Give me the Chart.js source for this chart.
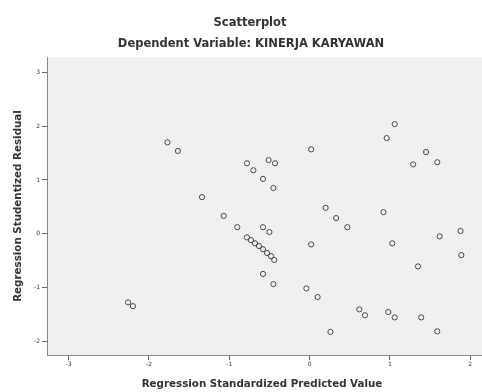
<!DOCTYPE html>
<html>
<head>
<meta charset="utf-8">
<script src="https://cdn.jsdelivr.net/npm/chart.js@4"></script>
<style>
  html, body { margin: 0; padding: 0; background: #fff; }
  #wrap { width: 482px; height: 392px; overflow: hidden; }
</style>
</head>
<body>
<div id="wrap"><canvas id="scatter" width="482" height="392"></canvas></div>
<script>
/**************************************************
 * DATA
 **************************************************/
const predicted = [
  -2.26, -2.20, -1.77, -1.64, -1.34, -1.07, -0.90, -0.78, -0.70, -0.51,
  -0.43, -0.58, -0.45, -0.58, -0.50, -0.78, -0.73, -0.68, -0.63, -0.58,
  -0.53, -0.48, -0.44, -0.58, -0.45, 0.02, 0.02, 0.20, 0.33, 0.47,
  -0.04, 0.10, 0.26, 0.62, 0.69, 0.92, 0.96, 1.06, 1.03, 0.98,
  1.06, 1.29, 1.45, 1.59, 1.35, 1.39, 1.59, 1.62, 1.88, 1.89
];
const residual = [
  -1.28, -1.35, 1.70, 1.54, 0.68, 0.33, 0.12, 1.31, 1.18, 1.37,
  1.31, 1.02, 0.85, 0.12, 0.03, -0.07, -0.12, -0.18, -0.23, -0.29,
  -0.36, -0.42, -0.49, -0.75, -0.94, 1.57, -0.20, 0.48, 0.29, 0.12,
  -1.02, -1.18, -1.83, -1.41, -1.52, 0.40, 1.78, 2.04, -0.18, -1.46,
  -1.56, 1.29, 1.52, 1.33, -0.61, -1.56, -1.82, -0.05, 0.05, -0.40
];
const xTicks = [-3, -2, -1, 0, 1, 2];
const yTicks = [-2, -1, 0, 1, 2, 3];
const titleText = "Scatterplot";
const subtitleText = "Dependent Variable: KINERJA KARYAWAN";

const FONT = "'DejaVu Sans', Arial, sans-serif";

/**************************************************
 * PLOT BACKGROUND + HEADINGS
 **************************************************/
const plotBackground = {
  id: "plotBackground",
  beforeDraw(chart) {
    const { ctx, chartArea: a } = chart;
    ctx.save();
    ctx.fillStyle = "#f0f0f0";
    // the box runs off the right edge of the picture
    ctx.fillRect(a.left, a.top, chart.width - a.left, a.bottom - a.top);
    ctx.strokeStyle = "#888";
    ctx.lineWidth = 1;
    ctx.beginPath();
    ctx.moveTo(a.right, Math.round(a.bottom) + 0.5);
    ctx.lineTo(chart.width, Math.round(a.bottom) + 0.5);
    ctx.stroke();
    ctx.restore();
  }
};

const headings = {
  id: "headings",
  afterDraw(chart) {
    const ctx = chart.ctx;
    ctx.save();
    ctx.fillStyle = "#333";
    ctx.textAlign = "center";
    ctx.textBaseline = "middle";
    ctx.font = "bold 11.5px " + FONT;
    ctx.fillText(titleText, 250, 23);
    ctx.fillText(subtitleText, 251, 44);
    ctx.restore();
  }
};

/**************************************************
 * SCATTER CHART
 **************************************************/
function drawScatter() {
  const ctx = document.getElementById("scatter").getContext("2d");
  const points = predicted.map((x, i) => ({ x: x, y: residual[i] }));

  new Chart(ctx, {
    type: "scatter",
    data: {
      datasets: [
        {
          data: points,
          pointStyle: "circle",
          pointRadius: 2.6,
          pointBorderWidth: 1,
          pointBorderColor: "#4a4a4a",
          pointBackgroundColor: "rgba(0,0,0,0)"
        }
      ]
    },
    options: {
      responsive: false,
      animation: false,
      layout: { padding: { left: 0, right: 0, top: 57, bottom: 0 } },
      plugins: {
        legend: { display: false },
        tooltip: { enabled: false }
      },
      scales: {
        x: {
          type: "linear",
          min: -3.27,
          max: 2.085,
          afterBuildTicks: s => { s.ticks = xTicks.map(v => ({ value: v })); },
          afterFit: s => { s.height = 37; },
          grid: { drawOnChartArea: false, drawTicks: true, tickLength: 5, color: "#666" },
          border: { display: true, color: "#888" },
          ticks: {
            color: "#333",
            padding: 1,
            font: { family: FONT, size: 6 }
          },
          title: {
            display: true,
            text: "Regression Standardized Predicted Value",
            color: "#333",
            font: { family: FONT, size: 10.3, weight: "bold" },
            padding: { top: 4, bottom: 1 }
          }
        },
        y: {
          type: "linear",
          min: -2.26,
          max: 3.29,
          afterBuildTicks: s => { s.ticks = yTicks.map(v => ({ value: v })); },
          afterFit: s => { s.width = 47; },
          grid: { drawOnChartArea: false, drawTicks: true, tickLength: 5, color: "#666" },
          border: { display: true, color: "#888" },
          ticks: {
            color: "#333",
            padding: 2,
            font: { family: FONT, size: 6 }
          },
          title: {
            display: true,
            text: "Regression Studentized Residual",
            color: "#333",
            font: { family: FONT, size: 10.3, weight: "bold" },
            padding: { top: 12, bottom: 4 }
          }
        }
      }
    },
    plugins: [plotBackground, headings]
  });
}

drawScatter();
</script>
</body>
</html>
